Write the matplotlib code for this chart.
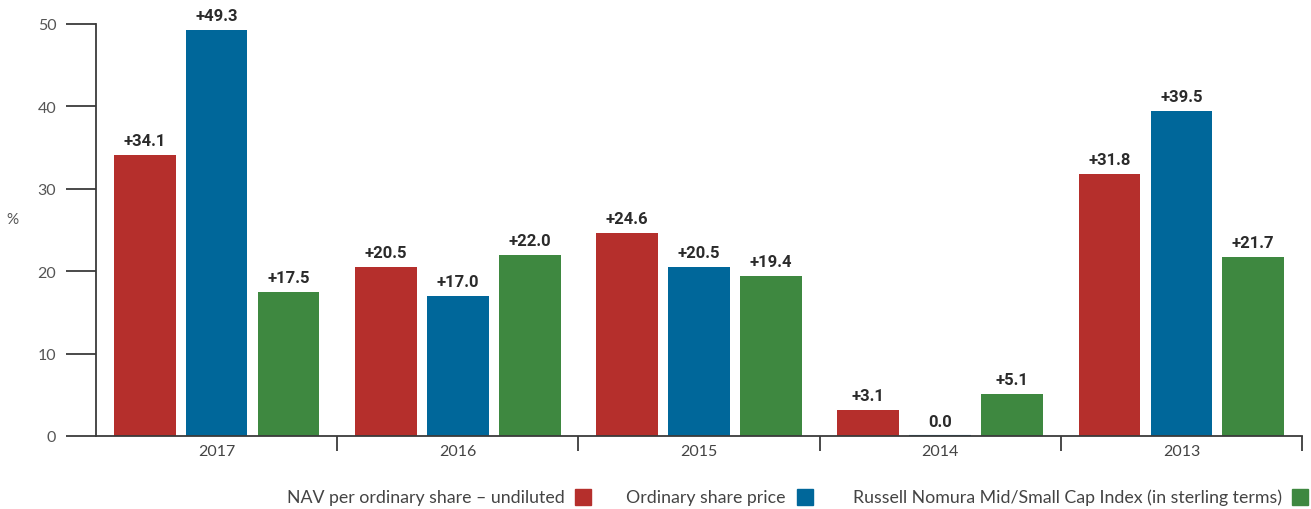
import matplotlib
matplotlib.use("Agg")
import matplotlib.pyplot as plt
from matplotlib.patches import Rectangle
import numpy as np

years = ["2017", "2016", "2015", "2014", "2013"]
nav = [34.1, 20.5, 24.6, 3.1, 31.8]
share_price = [49.3, 17.0, 20.5, 0.0, 39.5]
russell = [17.5, 22.0, 19.4, 5.1, 21.7]
series_names = ["NAV per ordinary share \u2013 undiluted",
                "Ordinary share price",
                "Russell Nomura Mid/Small Cap Index (in sterling terms)"]
colors = ["#B52F2C", "#00679A", "#3E8840"]
yticks = [0, 10, 20, 30, 40, 50]

W, H = 1311, 510
fig = plt.figure(figsize=(W / 100, H / 100), dpi=100)
ax = fig.add_axes([96 / W, 1 - 437 / H, (1302 - 96) / W, (437 - 25) / H])

x = np.arange(len(years))
offsets = [-0.298, 0.0, 0.298]
bw = 0.256
label_font = dict(family="Roboto", weight="bold", fontsize=12, color="#2b2b2b")
for vals, off, c in zip([nav, share_price, russell], offsets, colors):
    ax.bar(x + off, vals, width=bw, color=c, linewidth=0, zorder=2)
    for xi, v in zip(x + off, vals):
        txt = f"+{v:.1f}" if v > 0 else f"{v:.1f}"
        ax.text(xi, v + 0.85, txt, ha="center", va="bottom", clip_on=False, **label_font)
    for xi, v in zip(x + off, vals):
        if v == 0:
            ax.plot([xi - bw / 2, xi + bw / 2], [0, 0], color=c, lw=1.5, zorder=3,
                    solid_capstyle="butt")

ax.set_xlim(-0.5, len(years) - 0.5)
ax.set_ylim(0, 50)
for s in ["top", "right"]:
    ax.spines[s].set_visible(False)
for s in ["left", "bottom"]:
    ax.spines[s].set_color("#3a3a3a")
    ax.spines[s].set_linewidth(1.3)
ax.spines["bottom"].set_zorder(4)

ax.set_yticks(yticks)
ax.set_yticklabels([str(t) for t in yticks], family="Lato", fontsize=11.5, color="#555555")
ax.tick_params(axis="y", length=21.6, width=1.3, color="#3a3a3a", pad=7)

ax.set_xticks(np.arange(len(years)) + 0.5)
ax.set_xticklabels([])
ax.tick_params(axis="x", length=10.8, width=1.3, color="#3a3a3a", direction="out")
for xi, yr in zip(x, years):
    ax.text(xi, -1.85, yr, ha="center", va="center", family="Lato", fontsize=11.5,
            color="#444444", clip_on=False)

fig.text(12 / W, 1 - 220 / H, "%", ha="center", va="center", family="Lato",
         fontsize=11, color="#555555")

# legend
text_right = [565, 785, 1282]
sq_left = [575, 797, 1292]
for name, c, tr, sl in zip(series_names, colors, text_right, sq_left):
    fig.text(tr / W, 1 - 498 / H, name, ha="right", va="center", family="Lato",
             fontsize=12.8, color="#444444")
    fig.patches.append(Rectangle((sl / W, 1 - 506 / H), 16 / W, 16 / H,
                                 transform=fig.transFigure, color=c, figure=fig))

fig.savefig("out.png", dpi=100)
